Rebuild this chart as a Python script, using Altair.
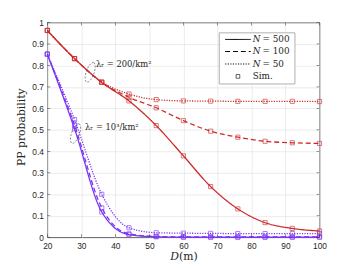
import altair as alt
import pandas as pd

# ---------------- data ----------------
D_vals = [20, 28, 36, 44, 52, 60, 68, 76, 84, 92, 100]
red_500 = [0.963, 0.832, 0.721, 0.635, 0.520, 0.379, 0.236, 0.132, 0.068, 0.041, 0.029]
red_100 = [0.963, 0.832, 0.722, 0.652, 0.603, 0.543, 0.494, 0.466, 0.447, 0.440, 0.437]
red_50 = [0.963, 0.832, 0.723, 0.667, 0.641, 0.635, 0.634, 0.633, 0.633, 0.633, 0.632]
blue_500 = [0.853, 0.505, 0.118, 0.012, 0.002, 0.0, 0.0, 0.0, 0.0, 0.0, 0.0]
blue_100 = [0.853, 0.522, 0.137, 0.016, 0.004, 0.002, 0.002, 0.002, 0.002, 0.002, 0.002]
blue_50 = [0.853, 0.548, 0.200, 0.044, 0.021, 0.019, 0.018, 0.017, 0.017, 0.017, 0.017]

x_ticks = [20, 30, 40, 50, 60, 70, 80, 90, 100]
y_ticks = [0, 0.1, 0.2, 0.3, 0.4, 0.5, 0.6, 0.7, 0.8, 0.9, 1.0]

legend_N = ["= 500", "= 100", "= 50"]
annot_text = ["λᵣ = 200/km²", "λᵣ = 10³/km²"]
annot_D = [34.3, 31.1]
annot_p = [0.808, 0.511]
ellipse_D = [32.6, 28.3]
ellipse_p = [0.768, 0.483]

RED = "#cc2a2a"
BLUE = "#7b35f5"
W, H = 277, 218.5

rows = []
for lam, series in (("200", (red_500, red_100, red_50)), ("1000", (blue_500, blue_100, blue_50))):
    for N, vals in zip(("500", "100", "50"), series):
        for d, p in zip(D_vals, vals):
            rows.append({"D": d, "p": p, "N": N, "lam": lam, "grp": lam + "_" + N})
df = pd.DataFrame(rows)

xaxis = alt.Axis(values=x_ticks, title=None, labelPadding=4, format="d",
                 labelOverlap=False, labelFlush=False, tickCount=9)
yaxis = alt.Axis(values=y_ticks, title=None, labelPadding=4, format=".1~f",
                 labelOverlap=False, labelFlush=False, tickCount=11)
xs = alt.X("D:Q", scale=alt.Scale(domain=[20, 100], nice=False), axis=xaxis)
ys = alt.Y("p:Q", scale=alt.Scale(domain=[0, 1], nice=False), axis=yaxis)
col = alt.Color("lam:N", scale=alt.Scale(domain=["200", "1000"], range=[RED, BLUE]), legend=None)
dash = alt.StrokeDash("N:N", scale=alt.Scale(domain=["500", "100", "50"],
                                             range=[[1, 0], [5, 3], [1.2, 1.4]]), legend=None)

lines = alt.Chart(df).mark_line(interpolate="monotone", strokeWidth=1.3).encode(
    x=xs, y=ys, color=col, strokeDash=dash, detail="grp:N")
pts = alt.Chart(df).mark_point(shape="square", filled=False, size=18, strokeWidth=0.9).encode(
    x=xs, y=ys, color=col)

# inward ticks (MATLAB style box)
xt = pd.DataFrame({"D": x_ticks})
yt = pd.DataFrame({"p": y_ticks})
tk = dict(color="#262626", thickness=0.7, size=3)
tick_b = alt.Chart(xt).mark_tick(orient="vertical", **tk).encode(x=xs, y=alt.value(H - 1.5))
tick_t = alt.Chart(xt).mark_tick(orient="vertical", **tk).encode(x=xs, y=alt.value(1.5))
tick_l = alt.Chart(yt).mark_tick(orient="horizontal", **tk).encode(y=ys, x=alt.value(1.5))
tick_r = alt.Chart(yt).mark_tick(orient="horizontal", **tk).encode(y=ys, x=alt.value(W - 1.5))

# annotations
adf = pd.DataFrame({"D": annot_D, "p": annot_p, "t": annot_text})
annot = alt.Chart(adf).mark_text(align="left", baseline="middle", font="DejaVu Serif",
                                 fontSize=8.5, color="#262626").encode(x=xs, y=ys, text="t:N")
edf = pd.DataFrame({"D": ellipse_D, "p": ellipse_p})
ell = alt.Chart(edf).mark_point(
    shape="M0,-1A0.38,1,0,1,1,0,1A0.38,1,0,1,1,0,-1Z", size=440, filled=False,
    color="#404040", strokeWidth=0.8, strokeDash=[2, 1.5], angle=20).encode(x=xs, y=ys)

one = pd.DataFrame({"a": [0]})
# axis titles
ytitle = alt.Chart(one).mark_text(text="PP probability", angle=270, font="DejaVu Serif", fontSize=11,
                                  align="center", baseline="middle", color="#262626").encode(
    x=alt.value(-26), y=alt.value(106.5))
xD = alt.Chart(one).mark_text(text="D", font="DejaVu Serif", fontStyle="italic", fontSize=11,
                              align="left", baseline="alphabetic", color="#262626").encode(
    x=alt.value(125), y=alt.value(242))
xm = alt.Chart(one).mark_text(text="(m)", font="DejaVu Serif", fontSize=11,
                              align="left", baseline="alphabetic", color="#262626").encode(
    x=alt.value(134), y=alt.value(242))

# legend
lbox = alt.Chart(one).mark_rect(fill="white", stroke="#9a9a9a", strokeWidth=0.8).encode(
    x=alt.value(175), x2=alt.value(252), y=alt.value(10.5), y2=alt.value(62.5))
row_y = [17.2, 29.5, 42.2]
dashes = [[1, 0], [5, 3], [1.2, 1.4]]
leg_layers = [lbox]
for yy, dsh, lab in zip(row_y, dashes, legend_N):
    leg_layers.append(alt.Chart(one).mark_rule(color="black", strokeWidth=1, strokeDash=dsh).encode(
        x=alt.value(181), x2=alt.value(207), y=alt.value(yy)))
    leg_layers.append(alt.Chart(one).mark_text(text="N", font="DejaVu Serif", fontStyle="italic",
                                               fontSize=9, align="left", baseline="middle",
                                               color="#262626").encode(x=alt.value(209), y=alt.value(yy)))
    leg_layers.append(alt.Chart(one).mark_text(text=lab, font="DejaVu Serif", fontSize=9, align="left",
                                               baseline="middle", color="#262626").encode(
        x=alt.value(219), y=alt.value(yy)))
leg_layers.append(alt.Chart(one).mark_point(shape="square", filled=False, size=14, color="black",
                                            strokeWidth=0.9).encode(x=alt.value(194), y=alt.value(54.8)))
leg_layers.append(alt.Chart(one).mark_text(text="Sim.", font="DejaVu Serif", fontSize=9, align="left",
                                           baseline="middle", color="#262626").encode(
    x=alt.value(209), y=alt.value(54.8)))

chart = alt.layer(lines, pts, ell, annot, tick_b, tick_t, tick_l, tick_r, ytitle, xD, xm,
                  *leg_layers).properties(
    width=W, height=H,
    autosize=alt.AutoSizeParams(type="none"),
    padding={"left": 40, "top": 12.5, "right": 30, "bottom": 28},
    background="white",
).configure_view(stroke="#262626", strokeWidth=0.8).configure_axis(
    grid=True, gridColor="#e4e4e4", gridWidth=0.7, domain=False, tickSize=0,
    labelFont="Liberation Sans", labelFontSize=8.5, labelColor="#262626")

chart.save("out.html", embed_options={"renderer": "svg", "actions": False})
